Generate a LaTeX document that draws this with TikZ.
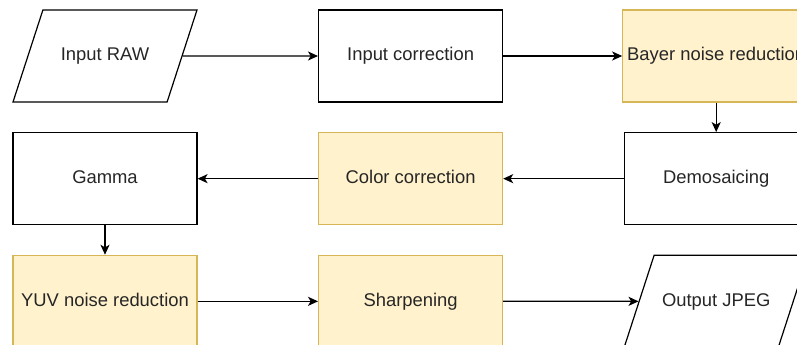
\documentclass[tikz,border=0pt]{standalone}
\usepackage{fontspec}
\setmainfont{Liberation Sans}
\usepackage{tikz}
\usetikzlibrary{shapes.geometric, arrows.meta}
\definecolor{ynfill}{HTML}{FFF2CC}
\definecolor{yndraw}{HTML}{D6B656}
\tikzstyle{box} = [rectangle, minimum width = 138pt, minimum height=69pt, text height=10pt, text depth=3pt, text centered, draw = black, line width=0.9pt, font=\fontsize{13.8}{16}\selectfont, text=black!85]
\tikzstyle{ybox} = [box, fill = ynfill, draw = yndraw]
\tikzstyle{io} = [box, trapezium, inner ysep=28pt, trapezium left angle=72, trapezium right angle=108, trapezium stretches body=true]
\tikzstyle{arrow} = [-{Stealth[length=7.5pt, width=6.8pt, inset=2pt]}, line width=0.9pt]

\begin{document}
\begin{tikzpicture}[x=0.75pt, y=-0.75pt, node distance=92pt]
	\useasboundingbox (0,0) rectangle (797,344);
	\clip (0,0) rectangle (797,344);
	\node (RAW) [io] at (105,56) {Input RAW};
	\node (IC) [box, right of=RAW, xshift=137.2pt] {Input correction};
	\node (BNR) [ybox, right of=IC, xshift=137.2pt] {Bayer noise reduction};
	\node (DM) [box, below of=BNR] {Demosaicing};
	\node (CC) [ybox, left of=DM, xshift=-137.2pt] {Color correction};
	\node (GM) [box, left of=CC, xshift=-137.2pt] {Gamma};
	\node (YUV) [ybox, below of=GM] {YUV noise reduction};
	\node (SH) [ybox, right of=YUV, xshift=137.2pt] {Sharpening};
	\node (JPEG) [io, right of=SH, xshift=137.2pt] {Output JPEG};
	\draw [arrow](RAW) -- (IC);
	\draw [arrow](IC) -- (BNR);
	\draw [arrow](BNR) -- (DM);
	\draw [arrow](DM) -- (CC);
	\draw [arrow](CC) -- (GM);
	\draw [arrow](GM) -- (YUV);
	\draw [arrow](YUV) -- (SH);
	\draw [arrow](SH) -- (JPEG);
\end{tikzpicture}
\end{document}
